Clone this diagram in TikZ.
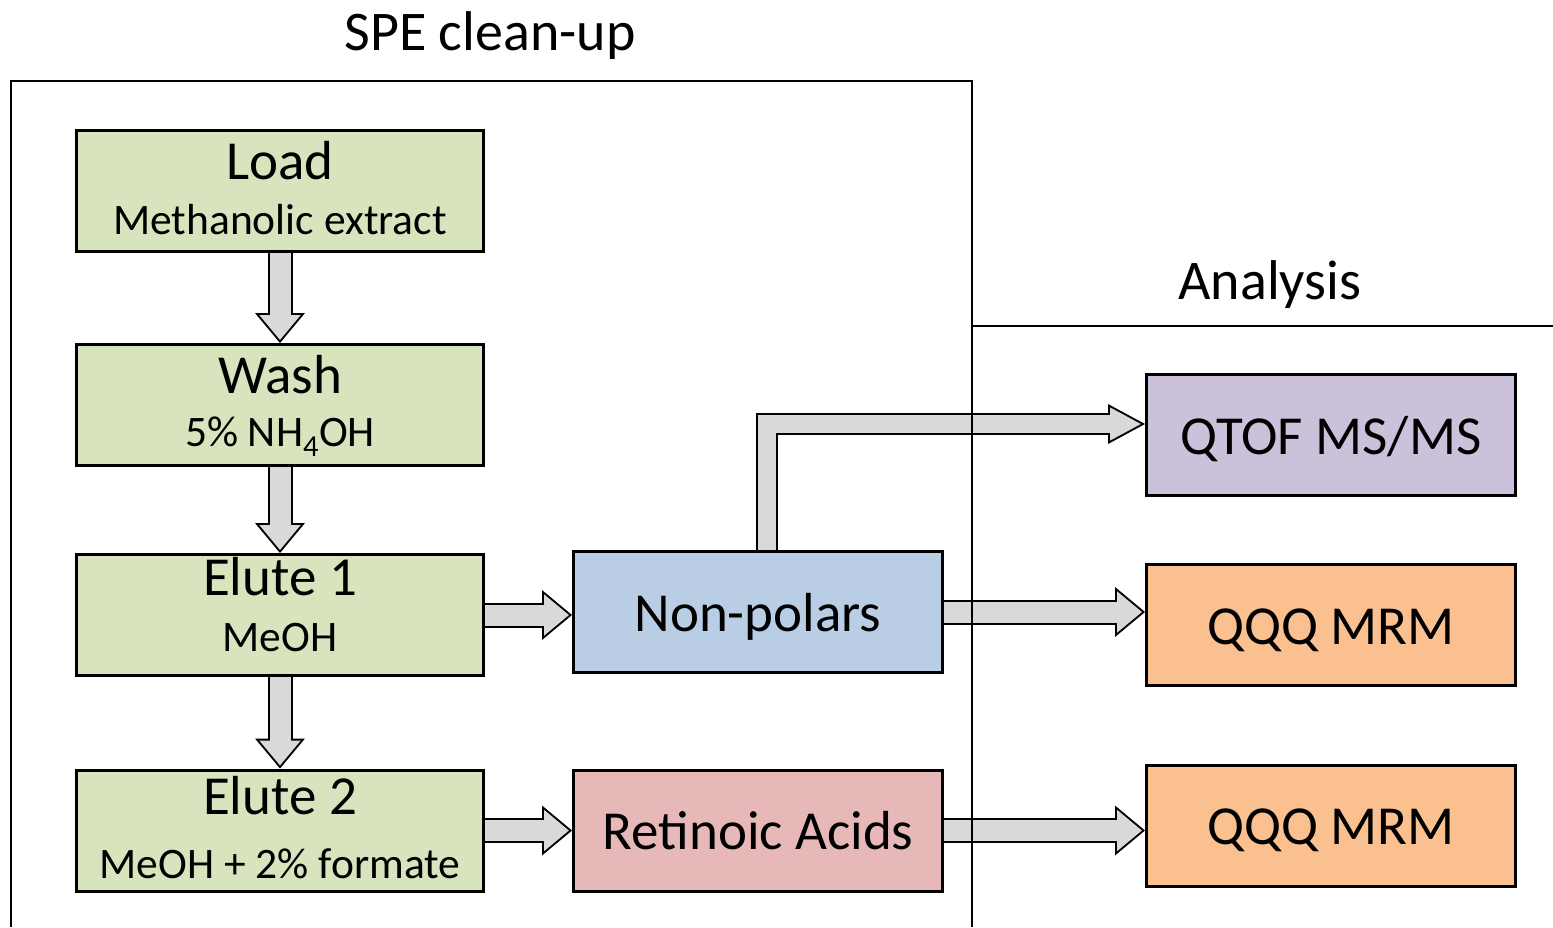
\documentclass[tikz,border=0pt]{standalone}
\usepackage{fontspec}
\setmainfont{Carlito}
\usepackage{xcolor}
\usepackage{tikz}
\usetikzlibrary{calc,arrows.meta}
\definecolor{stagegreen}{HTML}{D7E4BD}
\definecolor{nonpolblue}{HTML}{B9CDE5}
\definecolor{acidpink}{HTML}{E6B9B8}
\definecolor{qtofpurple}{HTML}{CCC1DA}
\definecolor{qqqorange}{HTML}{FAC090}
\definecolor{arrowgrey}{HTML}{D9D9D9}
\newcommand{\bigf}{\fontsize{55}{55}\selectfont}
\newcommand{\subf}{\fontsize{43.5}{55}\selectfont}
\newcommand{\hstrut}{\rule{0pt}{40pt}}
\newcommand{\dstrut}[1]{\rule[-#1pt]{0pt}{#1pt}}
\tikzset{
  stagebox/.style={draw=black, line width=3pt, fill=stagegreen, minimum width=407pt, minimum height=121pt, inner sep=0pt, align=center, font=\subf},
  resultbox/.style={draw=black, line width=3pt, minimum width=369pt, minimum height=121pt, inner sep=0pt, text height=38pt, text depth=0pt, font=\bigf},
  arrout/.style={draw=black, line width=25pt, -{Triangle[length=30pt,width=50pt,line width=0pt]}},
  arrin/.style={draw=arrowgrey, line width=21pt, shorten >=3.1pt, -{Triangle[length=24.9pt,width=41.5pt,line width=0pt]}},
  bentout/.style={draw=black, line width=22pt, line join=miter, -{Triangle[length=37pt,width=40pt,line width=0pt]}},
  bentin/.style={draw=arrowgrey, line width=18pt, line join=miter, shorten >=4.2pt, -{Triangle[length=30.8pt,width=33.3pt,line width=0pt]}},
  frame/.style={draw=black, line width=2.5pt},
  heading/.style={font=\fontsize{56}{56}\selectfont}
}
\begin{document}
\begin{tikzpicture}[x=1pt, y=-1pt]
  \useasboundingbox (0,0) rectangle (1553,927);
  % SPE steps
  \node[stagebox] (load) at (280,191) {{\bigf\hstrut Load}\\Methanolic extract\dstrut{9}};
  \node[stagebox] (wash) at (280,405) {{\bigf\hstrut Wash}\\[-2pt]5\% NH\textsubscript{4}OH\dstrut{9}};
  \node[stagebox] (elute1) at (280,615) {{\bigf\hstrut Elute 1}\\[1pt]MeOH\dstrut{24}};
  \node[stagebox] (elute2) at (280,830.5) {{\bigf\hstrut Elute 2}\\[9pt]MeOH + 2\% formate\dstrut{9}};
  % fractions
  \node[resultbox, fill=nonpolblue] (nonpolar) at (758,612) {Non-polars};
  \node[resultbox, fill=acidpink] (retinoic) at (758,830.5) {Retinoic Acids};
  % analysis
  \node[resultbox, fill=qtofpurple] (qtof) at (1331,435) {QTOF MS/MS};
  \node[resultbox, fill=qqqorange] (qqq1) at (1331,625) {QQQ MRM};
  \node[resultbox, fill=qqqorange] (qqq2) at (1331,825.5) {QQQ MRM};
  % block arrows
  \foreach \a/\b in {load/wash, wash/elute1, elute1/elute2} {
    \draw[arrout] (\a) -- (\b);
    \draw[arrin] (\a) -- (\b);
  }
  \foreach \a/\b in {elute1/nonpolar, elute2/retinoic, nonpolar/qqq1, retinoic/qqq2} {
    \draw[arrout] (\a.east) -- (\a.east -| \b.west);
    \draw[arrin] (\a.east) -- (\a.east -| \b.west);
  }
  \coordinate (bentstart) at ($(nonpolar.north)+(9,0)$);
  \coordinate (bentend) at ($(qtof.west)+(0,-11)$);
  \draw[bentout] (bentstart) |- (bentend);
  \draw[bentin] (bentstart) |- (bentend);
  % frames and headings
  \draw[frame] (11,927) -- (11,81) -- (972,81) -- (972,927);
  \draw[frame] (972,326) -- (1553,326);
  \node[heading] (spe) at (490,36) {SPE clean-up};
  \node[heading] (analysis) at (1270,285) {Analysis};
\end{tikzpicture}
\end{document}
